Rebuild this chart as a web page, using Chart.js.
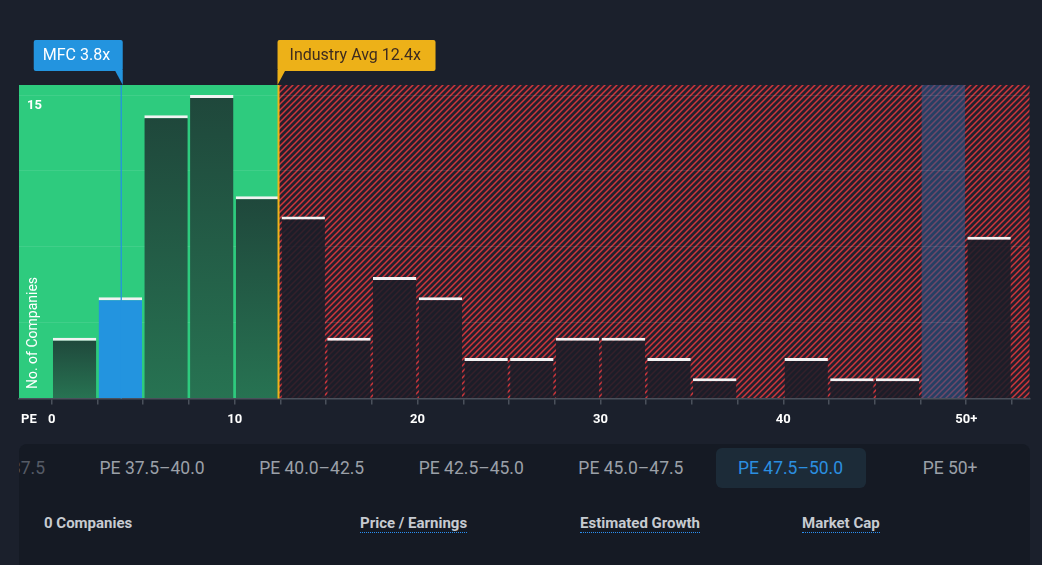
<!DOCTYPE html>
<html>
<head>
<meta charset="utf-8">
<script src="https://cdn.jsdelivr.net/npm/chart.js@4.4.1/dist/chart.umd.min.js"></script>
<style>
  html, body { margin: 0; padding: 0; background: #1b202c; width: 1042px; height: 565px; overflow: hidden; font-family: Roboto, "Noto Sans", sans-serif; }
  #wrap { position: absolute; left: 0; top: 0; width: 1042px; height: 440px; }
  #panel { position: absolute; left: 19px; top: 444px; width: 1011px; height: 140px; background: #151a24; border-radius: 8px; overflow: hidden; }
  .tab { position: absolute; top: 4px; width: 150px; height: 40px; line-height: 40px; margin-left: -75px; text-align: center; font-size: 17.5px; color: #9ba0a8; border-radius: 6px; white-space: nowrap; }
  .tab.active { background: #1c2b38; color: #2b8fe0; }
  .tab.faded { color: #555b66; }
  .stat { position: absolute; top: 70px; font-size: 15px; font-weight: bold; color: #c7cbd1; line-height: 18px; white-space: nowrap; }
  .stat.u { border-bottom: 1px dotted #2a8ff0; }
</style>
</head>
<body>
<div id="wrap"><canvas id="peChart"></canvas></div>
<div id="panel"></div>
<script>
// ==========================================
// data
// ==========================================
const binStarts = [0, 2.5, 5, 7.5, 10, 12.5, 15, 17.5, 20, 22.5, 25, 27.5, 30, 32.5, 35, 37.5, 40, 42.5, 45, 47.5, 50];
const companyCounts = [3, 5, 14, 15, 10, 9, 3, 6, 5, 2, 2, 3, 3, 2, 1, 0, 2, 1, 1, 0, 8];
const binEdges = [0, 2.5, 5, 7.5, 10, 12.5, 15, 17.5, 20, 22.5, 25, 27.5, 30, 32.5, 35, 37.5, 40, 42.5, 45, 47.5, 50, 52.5];
const tickLabelValues = [0, 10, 20, 30, 40, 50];
const tickLabelTexts = ["0", "10", "20", "30", "40", "50+"];
const yGridValues = [0, 3.75, 7.5, 11.25, 15];
const yLabelValues = [15];
const binWidth = 2.5;
const mfcPE = 3.8;
const industryAvgPE = 12.4;
const selectedBinStart = 47.5;

const tabLabels = ["PE 35.0–37.5", "PE 37.5–40.0", "PE 40.0–42.5", "PE 42.5–45.0", "PE 45.0–47.5", "PE 47.5–50.0", "PE 50+"];
const activeTab = "PE 47.5–50.0";
const statLabels = ["0 Companies", "Price / Earnings", "Estimated Growth", "Market Cap"];

// ==========================================
// bottom panel
// ==========================================
function buildPanel() {
  const panel = document.getElementById("panel");
  tabLabels.forEach((label, i) => {
    const tab = document.createElement("div");
    tab.className = "tab" + (label === activeTab ? " active" : "") + (i === 0 ? " faded" : "");
    tab.style.left = `${-26.5 + i * 159.6}px`;
    tab.textContent = label;
    panel.appendChild(tab);
  });
  const statLeft = [25, 341, 561, 783];
  statLabels.forEach((label, i) => {
    const stat = document.createElement("div");
    stat.className = "stat" + (i > 0 ? " u" : "");
    stat.style.left = `${statLeft[i]}px`;
    stat.textContent = label;
    panel.appendChild(stat);
  });
}

// ==========================================
// chart helpers
// ==========================================
function makeHatch(ctx) {
  const n = 6;
  const tile = document.createElement("canvas");
  tile.width = n;
  tile.height = n;
  const t = tile.getContext("2d");
  t.fillStyle = "#24202d";
  t.fillRect(0, 0, n, n);
  t.strokeStyle = "#d0363b";
  t.lineWidth = 1.5;
  t.beginPath();
  t.moveTo(-1, n + 1); t.lineTo(n + 1, -1);
  t.moveTo(-2, 2); t.lineTo(2, -2);
  t.moveTo(n - 2, n + 2); t.lineTo(n + 2, n - 2);
  t.stroke();
  return ctx.createPattern(tile, "repeat");
}

function barColor(context) {
  const chart = context.chart;
  if (!chart.chartArea) return "transparent";
  const i = context.dataIndex;
  const start = binStarts[i];
  if (mfcPE >= start && mfcPE < start + binWidth) return "#2394df";
  if (start + binWidth / 2 < industryAvgPE) {
    const y = chart.scales.y;
    const g = chart.ctx.createLinearGradient(0, y.getPixelForValue(companyCounts[i]), 0, y.getPixelForValue(0));
    g.addColorStop(0, "#1f473b");
    g.addColorStop(1, "#277352");
    return g;
  }
  return "rgba(27, 29, 40, 0.87)";
}

function roundedBox(ctx, x, y, w, h, r) {
  ctx.beginPath();
  ctx.moveTo(x + r, y);
  ctx.lineTo(x + w - r, y);
  ctx.quadraticCurveTo(x + w, y, x + w, y + r);
  ctx.lineTo(x + w, y + h - r);
  ctx.quadraticCurveTo(x + w, y + h, x + w - r, y + h);
  ctx.lineTo(x + r, y + h);
  ctx.quadraticCurveTo(x, y + h, x, y + h - r);
  ctx.lineTo(x, y + r);
  ctx.quadraticCurveTo(x, y, x + r, y);
  ctx.closePath();
}

const backgroundPlugin = {
  id: "zones",
  beforeDraw(chart) {
    const { ctx, chartArea: a, scales } = chart;
    const xInd = scales.x.getPixelForValue(industryAvgPE);
    ctx.save();
    ctx.fillStyle = "#2ecb7e";
    ctx.fillRect(a.left, a.top, xInd - a.left, a.bottom - a.top);
    ctx.fillStyle = makeHatch(ctx);
    ctx.fillRect(xInd, a.top, a.right - xInd, a.bottom - a.top);
    // selected bin column
    const meta = chart.getDatasetMeta(0);
    const idx = binStarts.indexOf(selectedBinStart);
    const bar = meta.data[idx];
    if (bar) {
      ctx.fillStyle = "rgba(42, 86, 140, 0.58)";
      ctx.fillRect(bar.x - bar.width / 2, a.top, bar.width, a.bottom - a.top);
    }
    ctx.restore();
  },
  afterDatasetsDraw(chart) {
    const { ctx, chartArea: a, scales } = chart;
    const xMfc = scales.x.getPixelForValue(mfcPE);
    const xInd = scales.x.getPixelForValue(industryAvgPE);
    ctx.save();
    ctx.strokeStyle = "#2394df";
    ctx.lineWidth = 1.3;
    ctx.beginPath();
    ctx.moveTo(xMfc, a.top);
    ctx.lineTo(xMfc, a.bottom);
    ctx.stroke();
    ctx.strokeStyle = "#f0b31a";
    ctx.lineWidth = 2;
    ctx.beginPath();
    ctx.moveTo(xInd, a.top);
    ctx.lineTo(xInd, a.bottom);
    ctx.stroke();

    ctx.translate(33, 333);
    ctx.rotate(-Math.PI / 2);
    ctx.fillStyle = "#ffffff";
    ctx.font = "14px Roboto";
    ctx.textAlign = "center";
    ctx.textBaseline = "middle";
    ctx.fillText("No. of Companies", 0, 0);
    ctx.restore();
  },
  afterDraw(chart) {
    const { ctx, chartArea: a, scales } = chart;
    const xMfc = scales.x.getPixelForValue(mfcPE);
    const xInd = scales.x.getPixelForValue(industryAvgPE);
    ctx.save();
    // MFC label, tail on the right
    const mr = xMfc + 1.5;
    ctx.fillStyle = "#2394df";
    roundedBox(ctx, mr - 89, 40, 89, 31, 2);
    ctx.fill();
    ctx.beginPath();
    ctx.moveTo(mr - 8, 70); ctx.lineTo(mr, 70); ctx.lineTo(mr, a.top); ctx.closePath();
    ctx.fill();
    ctx.fillStyle = "#ffffff";
    ctx.font = "16px Roboto";
    ctx.textBaseline = "middle";
    ctx.textAlign = "left";
    ctx.fillText(`MFC ${mfcPE}x`, mr - 80, 56);

    // industry label, tail on the left
    const il = xInd - 1;
    ctx.fillStyle = "#edb118";
    roundedBox(ctx, il, 40, 158, 31, 2);
    ctx.fill();
    ctx.beginPath();
    ctx.moveTo(il, 70); ctx.lineTo(il + 8, 70); ctx.lineTo(il, a.top); ctx.closePath();
    ctx.fill();
    ctx.fillStyle = "#3d2b1f";
    ctx.fillText(`Industry Avg ${industryAvgPE}x`, il + 12, 56);

    // axis name
    ctx.fillStyle = "#ffffff";
    ctx.font = "bold 13px Roboto";
    ctx.fillText("PE", 21, 420);
    ctx.restore();
  },
};

// ==========================================
// chart
// ==========================================
function drawPEHistogram() {
  const ctx = document.getElementById("peChart").getContext("2d");
  const points = binStarts.map((start, i) => ({ x: start + binWidth / 2, y: companyCounts[i] }));

  new Chart(ctx, {
    type: "bar",
    data: {
      datasets: [
        {
          label: "Companies",
          data: points,
          backgroundColor: barColor,
          borderColor: "#f2f2f2",
          borderWidth: { top: 3, left: 0, right: 0, bottom: 0 },
          borderSkipped: false,
          barPercentage: 0.95,
          categoryPercentage: 1,
        },
      ],
    },
    options: {
      responsive: true,
      maintainAspectRatio: false,
      animation: false,
      layout: { padding: { top: 85, left: 3, right: 12.5, bottom: 4 } },
      scales: {
        x: {
          type: "linear",
          offset: false,
          min: -1.79,
          max: 53.46,
          afterBuildTicks: (scale) => {
            scale.ticks = binEdges.map((v) => ({ value: v }));
          },
          grid: { offset: false, drawOnChartArea: false, drawTicks: true, tickLength: 6, color: "#4a505b", lineWidth: 1.5 },
          border: { display: true, color: "#4a505b", width: 1.5 },
          ticks: {
            autoSkip: false,
            maxRotation: 0,
            padding: 8,
            color: "#ffffff",
            font: { family: "Roboto", size: 13, weight: "bold" },
            callback: (value) => {
              const k = tickLabelValues.indexOf(value);
              return k >= 0 ? tickLabelTexts[k] : "";
            },
          },
        },
        y: {
          min: 0,
          max: 15.5,
          afterBuildTicks: (scale) => {
            scale.ticks = yGridValues.map((v) => ({ value: v }));
          },
          grid: { color: "rgba(255, 255, 255, 0.09)", drawTicks: false },
          border: { display: false },
          ticks: {
            mirror: true,
            padding: 8,
            labelOffset: 11,
            color: "#ffffff",
            font: { family: "Roboto", size: 13, weight: "bold" },
            callback: (value) => (yLabelValues.includes(value) ? String(value) : ""),
          },
        },
      },
      plugins: {
        legend: { display: false },
        tooltip: { enabled: false },
      },
    },
    plugins: [backgroundPlugin],
  });
}

buildPanel();
drawPEHistogram();
</script>
</body>
</html>
